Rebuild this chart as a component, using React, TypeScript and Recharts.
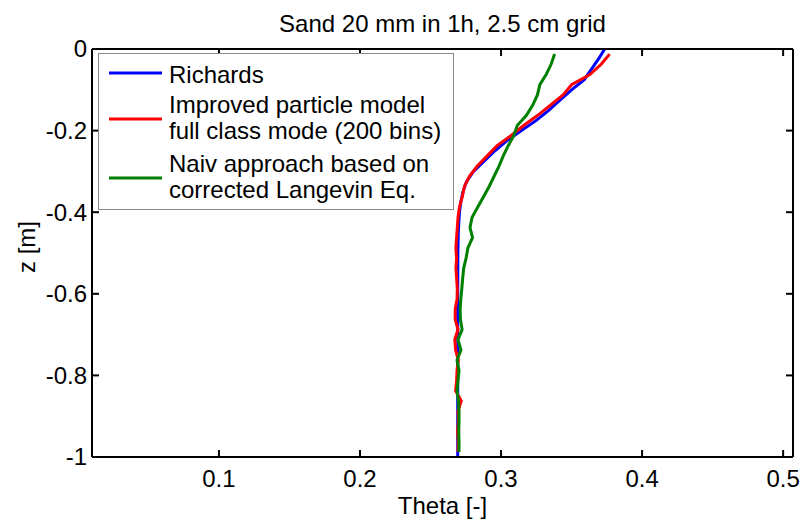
import React from 'react';
import { LineChart, Line, XAxis, YAxis, Legend } from 'recharts';

const TITLE = 'Sand 20 mm in 1h, 2.5 cm grid';
const X_LABEL = 'Theta [-]';
const Y_LABEL = 'z [m]';

const xTicks = [0.1, 0.2, 0.3, 0.4, 0.5];
const yTicks = [0, -0.2, -0.4, -0.6, -0.8, -1];

const seriesNames = ['Richards', 'Improved particle model full class mode (200 bins)', 'Naiv approach based on corrected Langevin Eq.'];
const legendLines = [
  ['Richards'],
  ['Improved particle model', 'full class mode (200 bins)'],
  ['Naiv approach based on', 'corrected Langevin Eq.'],
];
const seriesColors = ['#0000ff', '#ff0000', '#008000'];

const richardsZ = [0, -0.025, -0.05, -0.075, -0.1, -0.125, -0.15, -0.175, -0.2, -0.225, -0.25, -0.275, -0.3, -0.325, -0.35, -0.375, -0.4, -0.45, -0.5, -0.6, -0.7, -0.8, -0.9, -1];
const richardsTheta = [0.3735, 0.369, 0.364, 0.359, 0.35, 0.342, 0.334, 0.325, 0.3145, 0.304, 0.2955, 0.288, 0.2805, 0.2755, 0.273, 0.2715, 0.2705, 0.2697, 0.2694, 0.2693, 0.2693, 0.2693, 0.2693, 0.2693];

const cellZ = [
  -0.0125, -0.0375, -0.0625, -0.0875, -0.1125, -0.1375, -0.1625, -0.1875, -0.2125, -0.2375,
  -0.2625, -0.2875, -0.3125, -0.3375, -0.3625, -0.3875, -0.4125, -0.4375, -0.4625, -0.4875,
  -0.5125, -0.5375, -0.5625, -0.5875, -0.6125, -0.6375, -0.6625, -0.6875, -0.7125, -0.7375,
  -0.7625, -0.7875, -0.8125, -0.8375, -0.8625, -0.8875, -0.9125, -0.9375, -0.9625, -0.9875,
];

const particleTheta = [
  0.377, 0.371, 0.363, 0.35, 0.344, 0.335, 0.326, 0.316, 0.307, 0.297,
  0.29, 0.283, 0.2775, 0.274, 0.2725, 0.2705, 0.2695, 0.269, 0.2685, 0.268,
  0.2685, 0.268, 0.2685, 0.269, 0.2688, 0.2675, 0.2675, 0.2695, 0.2672, 0.2678,
  0.2697, 0.2688, 0.2685, 0.2678, 0.2718, 0.2695, 0.2698, 0.2692, 0.2697, 0.2695,
];

const naivTheta = [
  0.338, 0.3355, 0.332, 0.3275, 0.3258, 0.3225, 0.318, 0.3115, 0.309, 0.305,
  0.3015, 0.2985, 0.295, 0.2915, 0.2875, 0.2835, 0.2795, 0.278, 0.2798, 0.2765,
  0.2752, 0.2735, 0.2728, 0.2722, 0.2715, 0.271, 0.2712, 0.2724, 0.2695, 0.2716,
  0.2688, 0.2702, 0.2695, 0.2688, 0.2698, 0.2702, 0.2702, 0.27, 0.2702, 0.2702,
];

const richardsData = richardsZ.map((z, i) => ({ z, theta: richardsTheta[i] }));
const particleData = cellZ.map((z, i) => ({ z, theta: particleTheta[i] }));
const naivData = cellZ.map((z, i) => ({ z, theta: naivTheta[i] }));

const FONT = '"Liberation Sans", Arial, Helvetica, sans-serif';
const FS = 24;
const TICK_LEN = 7;

const BottomTick = (props: any) => {
  const { x, y, payload } = props;
  return (
    <g>
      <line x1={x} x2={x} y1={y} y2={y - TICK_LEN} stroke="#000" strokeWidth={2} />
      <text x={x} y={y + 30} textAnchor="middle" fontSize={FS} fontFamily={FONT} fill="#000">
        {String(payload.value)}
      </text>
    </g>
  );
};

const TopTick = (props: any) => {
  const { x, y } = props;
  return <line x1={x} x2={x} y1={y} y2={y + TICK_LEN} stroke="#000" strokeWidth={2} />;
};

const LeftTick = (props: any) => {
  const { x, y, payload } = props;
  return (
    <g>
      <line x1={x} x2={x + TICK_LEN} y1={y} y2={y} stroke="#000" strokeWidth={2} />
      <text x={x - 5} y={y} dy="0.35em" textAnchor="end" fontSize={FS} fontFamily={FONT} fill="#000">
        {String(payload.value)}
      </text>
    </g>
  );
};

const RightTick = (props: any) => {
  const { x, y } = props;
  return <line x1={x} x2={x - TICK_LEN} y1={y} y2={y} stroke="#000" strokeWidth={2} />;
};

const TitleLabel = (props: any) => {
  const vb = props.viewBox || { x: 92, width: 701 };
  return (
    <text x={vb.x + vb.width / 2} y={32} textAnchor="middle" fontSize={FS} fontFamily={FONT} fill="#000">
      {TITLE}
    </text>
  );
};

const XLabel = (props: any) => {
  const vb = props.viewBox || { x: 92, width: 701 };
  return (
    <text x={vb.x + vb.width / 2} y={514} textAnchor="middle" fontSize={FS} fontFamily={FONT} fill="#000">
      {X_LABEL}
    </text>
  );
};

const YLabel = () => (
  <text x={27} y={247} dy="0.35em" textAnchor="middle" fontSize={FS} fontFamily={FONT} fill="#000" transform="rotate(-90, 27, 247)">
    {Y_LABEL}
  </text>
);

const LegendBox = () => {
  const lineY = [19, 65, 124];
  const baselines = [[29], [59, 85], [118, 144]];
  return (
    <svg width={356} height={157} style={{ display: 'block', background: '#fff', boxSizing: 'border-box', border: '1px solid #888' }}>
      {legendLines.map((lines, i) => (
        <g key={i}>
          <line x1={10} x2={63} y1={lineY[i]} y2={lineY[i]} stroke={seriesColors[i]} strokeWidth={3} />
          {lines.map((t, j) => (
            <text key={j} x={70} y={baselines[i][j]} fontSize={FS} fontFamily={FONT} fill="#000">
              {t}
            </text>
          ))}
        </g>
      ))}
    </svg>
  );
};

export default function App() {
  return (
    <div style={{ position: 'absolute', left: 0, top: 0, width: 805, height: 522, background: '#fff' }}>
      <LineChart width={805} height={522} margin={{ top: 0, right: 0, bottom: 0, left: 0 }}>
        <XAxis
          xAxisId="bottom"
          orientation="bottom"
          type="number"
          dataKey="theta"
          domain={[0.01, 0.507]}
          allowDataOverflow
          ticks={xTicks}
          interval={0}
          height={65}
          tickSize={0}
          tickMargin={0}
          tickLine={false}
          axisLine={{ stroke: '#000', strokeWidth: 2 }}
          tick={<BottomTick />}
          label={{ content: <XLabel /> }}
        />
        <XAxis
          xAxisId="top"
          orientation="top"
          type="number"
          dataKey="theta"
          domain={[0.01, 0.507]}
          allowDataOverflow
          ticks={xTicks}
          interval={0}
          height={49}
          tickSize={0}
          tickMargin={0}
          tickLine={false}
          axisLine={{ stroke: '#000', strokeWidth: 2 }}
          tick={<TopTick />}
          label={{ content: <TitleLabel /> }}
        />
        <YAxis
          yAxisId="left"
          orientation="left"
          type="number"
          domain={[-1, 0]}
          allowDataOverflow
          ticks={yTicks}
          interval={0}
          width={92}
          tickSize={0}
          tickMargin={0}
          tickLine={false}
          axisLine={{ stroke: '#000', strokeWidth: 2 }}
          tick={<LeftTick />}
          label={{ content: <YLabel /> }}
        />
        <YAxis
          yAxisId="right"
          orientation="right"
          type="number"
          domain={[-1, 0]}
          allowDataOverflow
          ticks={yTicks}
          interval={0}
          width={12}
          tickSize={0}
          tickMargin={0}
          tickLine={false}
          axisLine={{ stroke: '#000', strokeWidth: 2 }}
          tick={<RightTick />}
        />
        <Line
          xAxisId="bottom"
          yAxisId="left"
          data={richardsData}
          dataKey="z"
          name={seriesNames[0]}
          stroke={seriesColors[0]}
          strokeWidth={3}
          dot={false}
          type="linear"
          isAnimationActive={false}
        />
        <Line
          xAxisId="bottom"
          yAxisId="left"
          data={particleData}
          dataKey="z"
          name={seriesNames[1]}
          stroke={seriesColors[1]}
          strokeWidth={3}
          dot={false}
          type="linear"
          isAnimationActive={false}
        />
        <Line
          xAxisId="bottom"
          yAxisId="left"
          data={naivData}
          dataKey="z"
          name={seriesNames[2]}
          stroke={seriesColors[2]}
          strokeWidth={3}
          dot={false}
          type="linear"
          isAnimationActive={false}
        />
        <Legend
          layout="horizontal"
          verticalAlign="middle"
          align="center"
          wrapperStyle={{ position: 'absolute', left: 98, top: 53, width: 356, height: 157 }}
          content={<LegendBox />}
        />
      </LineChart>
    </div>
  );
}
